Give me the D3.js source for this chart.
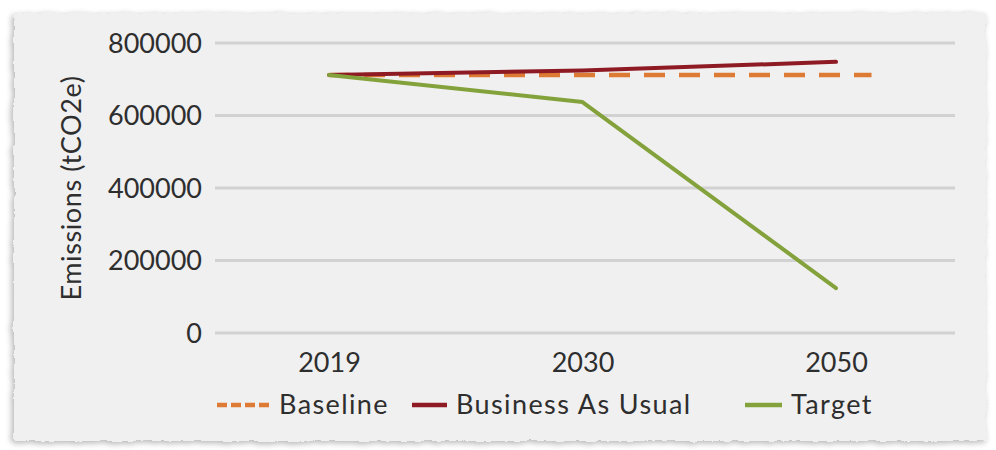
<!DOCTYPE html>
<html><head><meta charset="utf-8">
<script src="https://cdn.jsdelivr.net/npm/d3@7"></script>
<style>
html,body{margin:0;padding:0;background:#fff;}
svg{display:block;}
text{font-family:Lato,"Open Sans",sans-serif;fill:#2e2e2e;}
</style></head>
<body>
<script>
// ---- data ----
const categories = ["2019", "2030", "2050"];
const baseline = [712000, 712000, 712000];
const businessAsUsual = [712000, 724000, 748000];
const target = [712000, 637000, 124000];
const yTicks = [0, 200000, 400000, 600000, 800000];
const seriesNames = ["Baseline", "Business As Usual", "Target"];
const baselineSpan = [0, 2.14]; // baseline drawn across category index range

const W = 996, H = 450;
const svg = d3.select("body").append("svg").attr("width", W).attr("height", H);
const defs = svg.append("defs");

// torn paper edges
const rough = defs.append("filter").attr("id","rough").attr("x","-5%").attr("y","-5%").attr("width","110%").attr("height","110%");
rough.append("feTurbulence").attr("type","fractalNoise").attr("baseFrequency","0.09").attr("numOctaves","3").attr("seed","4").attr("result","noise");
rough.append("feDisplacementMap").attr("in","SourceGraphic").attr("in2","noise").attr("scale","5").attr("xChannelSelector","R").attr("yChannelSelector","G").attr("result","disp");
rough.append("feGaussianBlur").attr("in","disp").attr("stdDeviation","0.4");

// shadow
const shadow = defs.append("filter").attr("id","shadow").attr("x","-5%").attr("y","-5%").attr("width","110%").attr("height","110%");
shadow.append("feGaussianBlur").attr("in","SourceAlpha").attr("stdDeviation","3").attr("result","b");
shadow.append("feOffset").attr("in","b").attr("dx","-2").attr("dy","2").attr("result","o");
shadow.append("feComponentTransfer").attr("in","o").attr("result","o2")
  .append("feFuncA").attr("type","linear").attr("slope","0.3");
const sm = shadow.append("feMerge");
sm.append("feMergeNode").attr("in","o2");
sm.append("feMergeNode").attr("in","SourceGraphic");

const paperG = svg.append("g").attr("filter","url(#shadow)");
paperG.append("rect").attr("x",14).attr("y",13).attr("width",972).attr("height",428)
  .attr("fill","#f0f0f0").attr("filter","url(#rough)");

// scales
const plotLeft = 215, plotRight = 955;
const x = d3.scalePoint().domain(categories).range([329, 836]);
const xi = d3.scaleLinear().domain([0, categories.length - 1]).range([329, 836]);
const y = d3.scaleLinear().domain([0, 800000]).range([333, 43]);

// gridlines
svg.append("g").selectAll("line").data(yTicks).join("line")
  .attr("x1", plotLeft).attr("x2", plotRight)
  .attr("y1", d => y(d)).attr("y2", d => y(d))
  .attr("stroke", "#d2d2d2").attr("stroke-width", 3);

// y axis labels
const yAxis = d3.axisLeft(y).tickValues(yTicks).tickSize(0).tickPadding(0).tickFormat(d3.format("d"));
const yg = svg.append("g").attr("transform", "translate(202,0)").call(yAxis);
yg.select(".domain").remove();
yg.selectAll("text").style("font-size","27px").style("fill","#2e2e2e").style("font-family","Lato, sans-serif").attr("dy","0.35em");

// x axis labels
const xAxis = d3.axisBottom(x).tickSize(0).tickPadding(0);
const xg = svg.append("g").attr("transform", "translate(0,353)").call(xAxis);
xg.select(".domain").remove();
xg.selectAll("text").style("font-size","27px").style("fill","#2e2e2e").style("font-family","Lato, sans-serif").attr("dy","0.71em");

// y axis title
svg.append("text").attr("transform","translate(81,188) rotate(-90)")
  .attr("text-anchor","middle").style("font-size","27px").style("letter-spacing","0.6px").text("Emissions (tCO2e)");

// lines
const colors = { base: "#dd7a34", bau: "#8e1b24", tgt: "#84a23b" };
const line = d3.line().x((d, i) => x(categories[i])).y(d => y(d));

svg.append("path").datum(baselineSpan)
  .attr("d", d3.line().x(d => xi(d)).y(() => y(baseline[0])))
  .attr("fill","none").attr("stroke",colors.base).attr("stroke-width",4.5)
  .attr("stroke-dasharray","21,14");
svg.append("path").datum(businessAsUsual).attr("d", line)
  .attr("fill","none").attr("stroke",colors.bau).attr("stroke-width",4).attr("stroke-linecap","round");
svg.append("path").datum(target).attr("d", line)
  .attr("fill","none").attr("stroke",colors.tgt).attr("stroke-width",4).attr("stroke-linecap","round").attr("stroke-linejoin","round");

// legend
const ly = 405;
const leg = svg.append("g").style("font-size","27px").style("letter-spacing","1.4px");
leg.append("line").attr("x1",217).attr("x2",270).attr("y1",ly).attr("y2",ly)
  .attr("stroke",colors.base).attr("stroke-width",4.5).attr("stroke-dasharray","10,4");
leg.append("text").attr("x",279).attr("y",ly).attr("dy","0.35em").text(seriesNames[0]);
leg.append("line").attr("x1",412).attr("x2",447).attr("y1",ly).attr("y2",ly)
  .attr("stroke",colors.bau).attr("stroke-width",4.5);
leg.append("text").attr("x",456).attr("y",ly).attr("dy","0.35em").text(seriesNames[1]);
leg.append("line").attr("x1",745).attr("x2",782).attr("y1",ly).attr("y2",ly)
  .attr("stroke",colors.tgt).attr("stroke-width",4.5);
leg.append("text").attr("x",791).attr("y",ly).attr("dy","0.35em").text(seriesNames[2]);
</script>
</body></html>
